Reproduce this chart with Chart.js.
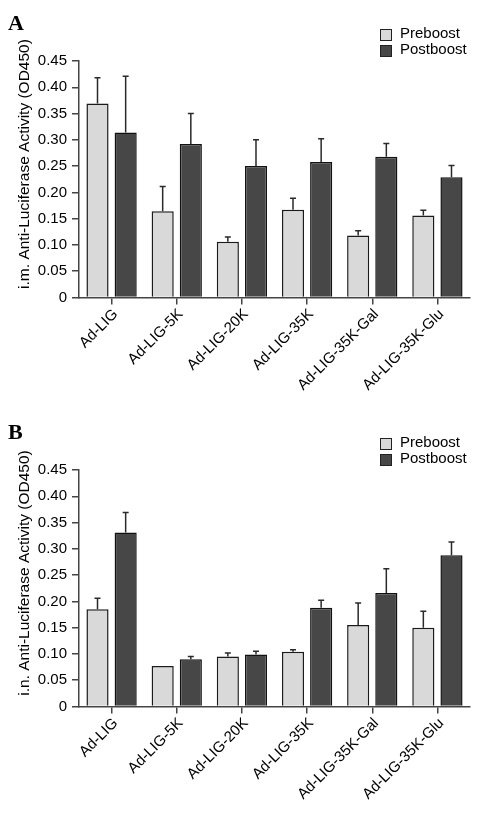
<!DOCTYPE html>
<html>
<head>
<meta charset="utf-8">
<script src="https://cdn.jsdelivr.net/npm/chart.js@4.4.1/dist/chart.umd.min.js"></script>
<style>
  html, body { margin: 0; padding: 0; background: #fff; }
  body { width: 480px; height: 818px; overflow: hidden; font-family: "Liberation Sans", Arial, Helvetica, sans-serif; }
  .panel { position: relative; width: 480px; height: 409px; }
  .panel canvas { position: absolute; left: 0; top: 0; }
  .letter { position: absolute; left: 8px; top: 10px; font-family: "Liberation Serif", "Times New Roman", serif; font-weight: bold; font-size: 22px; color: #000; }
  .legend { position: absolute; left: 380px; top: 25px; font-size: 15px; color: #000; line-height: 16px; }
  .legend div { position: relative; padding-left: 20px; height: 16px; white-space: nowrap; }
  .legend span.box { position: absolute; left: 0; top: 4px; width: 10px; height: 10px; border: 1px solid #222; }
</style>
</head>
<body>
<div class="panel">
  <canvas id="chartA" width="480" height="409"></canvas>
  <div class="letter">A</div>
  <div class="legend">
    <div><span class="box" style="background:#d9d9d9"></span>Preboost</div>
    <div><span class="box" style="background:#474747"></span>Postboost</div>
  </div>
</div>
<div class="panel">
  <canvas id="chartB" width="480" height="409"></canvas>
  <div class="letter">B</div>
  <div class="legend">
    <div><span class="box" style="background:#d9d9d9"></span>Preboost</div>
    <div><span class="box" style="background:#474747"></span>Postboost</div>
  </div>
</div>
<script>
const categories = ['Ad-LIG', 'Ad-LIG-5K', 'Ad-LIG-20K', 'Ad-LIG-35K', 'Ad-LIG-35K-Gal', 'Ad-LIG-35K-Glu'];
const yTicks = [0, 0.05, 0.10, 0.15, 0.20, 0.25, 0.30, 0.35, 0.40, 0.45];

// Panel A: i.m.
const imPre = [0.369, 0.164, 0.106, 0.167, 0.118, 0.156];
const imPreErr = [0.049, 0.047, 0.009, 0.022, 0.009, 0.010];
const imPost = [0.314, 0.292, 0.250, 0.258, 0.268, 0.229];
const imPostErr = [0.107, 0.058, 0.050, 0.044, 0.025, 0.022];

// Panel B: i.n.
const inPre = [0.185, 0.077, 0.095, 0.104, 0.155, 0.150];
const inPreErr = [0.021, 0.000, 0.007, 0.004, 0.042, 0.031];
const inPost = [0.331, 0.090, 0.099, 0.188, 0.216, 0.288];
const inPostErr = [0.038, 0.005, 0.006, 0.014, 0.046, 0.025];

const FONT = '"Liberation Sans", Arial, Helvetica, sans-serif';

const errorBarPlugin = {
  id: 'errorBars',
  afterDatasetsDraw(chart) {
    const ctx = chart.ctx;
    const yScale = chart.scales.y;
    chart.data.datasets.forEach((ds, di) => {
      const meta = chart.getDatasetMeta(di);
      meta.data.forEach((bar, i) => {
        const err = ds.errors[i];
        if (!err) return;
        const yTop = yScale.getPixelForValue(ds.data[i] + err);
        ctx.save();
        ctx.strokeStyle = '#2a2a2a';
        ctx.lineWidth = 1.5;
        ctx.beginPath();
        ctx.moveTo(bar.x, bar.y);
        ctx.lineTo(bar.x, yTop);
        ctx.moveTo(bar.x - 3, yTop);
        ctx.lineTo(bar.x + 3, yTop);
        ctx.stroke();
        ctx.restore();
      });
    });
  }
};

const yTitlePlugin = {
  id: 'yTitle',
  afterDraw(chart, args, opts) {
    const ctx = chart.ctx;
    ctx.save();
    ctx.translate(opts.x, opts.y);
    ctx.rotate(-Math.PI / 2);
    ctx.font = '15.5px ' + FONT;
    ctx.fillStyle = '#000';
    ctx.textAlign = 'center';
    ctx.textBaseline = 'middle';
    ctx.fillText(opts.text, 0, 0);
    ctx.restore();
  }
};

function makeChart(id, pre, preErr, post, postErr, title) {
  return new Chart(document.getElementById(id), {
    type: 'bar',
    data: {
      labels: categories,
      datasets: [
        { label: 'Preboost', data: pre, errors: preErr, backgroundColor: '#d9d9d9', borderColor: '#1a1a1a', borderWidth: 1.5, barPercentage: 0.786, categoryPercentage: 0.864 },
        { label: 'Postboost', data: post, errors: postErr, backgroundColor: '#474747', borderColor: '#111', borderWidth: 1.5, barPercentage: 0.786, categoryPercentage: 0.864 }
      ]
    },
    options: {
      responsive: false,
      animation: false,
      devicePixelRatio: 1,
      layout: { padding: { top: 61, right: 10, left: 0, bottom: 0 } },
      plugins: {
        legend: { display: false },
        tooltip: { enabled: false },
        yTitle: { text: title, x: 25, y: 164 }
      },
      scales: {
        x: {
          afterFit(scale) { scale.height = 111.5; },
          grid: { display: true, drawOnChartArea: false, drawTicks: true, tickLength: 7, offset: false, color: '#444', lineWidth: 1.5 },
          border: { display: true, color: '#444', width: 1.5 },
          ticks: { maxRotation: 45, minRotation: 45, padding: 1, labelOffset: 4, color: '#000', font: { family: FONT, size: 15 } }
        },
        y: {
          min: 0, max: 0.45,
          afterFit(scale) { scale.width = 79; },
          afterBuildTicks(scale) { scale.ticks = yTicks.map(v => ({ value: v })); },
          grid: { display: true, drawOnChartArea: false, drawTicks: true, tickLength: 7, color: '#444', lineWidth: 1.5 },
          border: { display: true, color: '#444', width: 1.5 },
          ticks: {
            padding: 5, color: '#000', font: { family: FONT, size: 15 },
            callback: v => v === 0 ? '0' : Number(v).toFixed(2)
          }
        }
      }
    },
    plugins: [errorBarPlugin, yTitlePlugin]
  });
}

makeChart('chartA', imPre, imPreErr, imPost, imPostErr, 'i.m. Anti-Luciferase Activity (OD450)');
makeChart('chartB', inPre, inPreErr, inPost, inPostErr, 'i.n. Anti-Luciferase Activity (OD450)');
</script>
</body>
</html>
